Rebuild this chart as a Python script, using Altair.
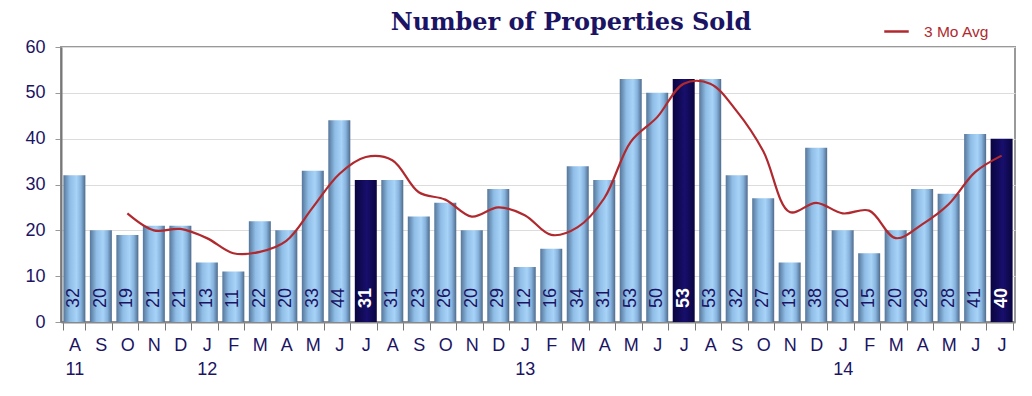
import altair as alt
import pandas as pd

months = ["A","S","O","N","D","J","F","M","A","M","J","J","A","S","O","N","D",
          "J","F","M","A","M","J","J","A","S","O","N","D","J","F","M","A","M","J","J"]
years = ["11","","","","","12","","","","","","","","","","","",
         "13","","","","","","","","","","","","14","","","","","",""]
sold = [32,20,19,21,21,13,11,22,20,33,44,31,31,23,26,20,29,12,16,34,31,53,50,53,
        53,32,27,13,38,20,15,20,29,28,41,40]
highlight = [i in (11, 23, 35) for i in range(36)]
avg3 = [None, None, 23.7, 20.0, 20.3, 18.3, 15.0, 15.3, 17.7, 25.0, 32.3, 36.0, 35.3,
        28.3, 26.7, 23.0, 25.0, 23.3, 19.0, 20.7, 27.0, 39.3, 44.7, 52.0, 52.0, 46.0,
        37.3, 24.0, 26.0, 23.7, 24.3, 18.3, 21.3, 25.7, 32.7, 36.3]

df = pd.DataFrame({"idx": list(range(36)), "sold": sold, "hl": highlight,
                   "avg": avg3, "series": ["3 Mo Avg"] * 36})

label_arr = "[" + ",".join("['%s','%s']" % (m, y) for m, y in zip(months, years)) + "]"

NAVY = "#1b1464"
W, H = 954, 275

x = alt.X("idx:O", title=None,
          scale=alt.Scale(paddingInner=0.17, paddingOuter=0.09),
          axis=alt.Axis(labelExpr=label_arr + "[datum.value]", labelAngle=0,
                        labelFont="Liberation Sans", labelFontSize=18, labelColor=NAVY,
                        labelPadding=6, labelLineHeight=24,
                        tickBand="extent", tickSize=8, tickColor="#777",
                        domainColor="#888", domainWidth=2, grid=False))
y = alt.Y("sold:Q", title=None,
          scale=alt.Scale(domain=[0, 60], nice=False),
          axis=alt.Axis(values=[0, 10, 20, 30, 40, 50, 60], labelFont="Liberation Sans",
                        labelFontSize=18, labelColor=NAVY, labelPadding=10,
                        tickSize=6, tickColor="#999", domainColor="#777", domainWidth=2,
                        gridColor="#dcdcdc", gridWidth=1))

base = alt.Chart(df)

light_grad = alt.Gradient(gradient="linear", x1=0, x2=1, y1=0, y2=0, stops=[
    alt.GradientStop(offset=0, color="#56769a"),
    alt.GradientStop(offset=0.3, color="#8fbde6"),
    alt.GradientStop(offset=0.6, color="#a8d3f8"),
    alt.GradientStop(offset=0.8, color="#86b2dc"),
    alt.GradientStop(offset=1, color="#4e6b8c")])
dark_grad = alt.Gradient(gradient="linear", x1=0, x2=1, y1=0, y2=0, stops=[
    alt.GradientStop(offset=0, color="#0a0540"),
    alt.GradientStop(offset=0.55, color="#170f6c"),
    alt.GradientStop(offset=1, color="#0a0540")])

bars = base.transform_filter("!datum.hl").mark_bar(color=light_grad).encode(x=x, y=y)
dbars = base.transform_filter("datum.hl").mark_bar(color=dark_grad).encode(x=x, y=y)

labels = base.transform_filter("!datum.hl").mark_text(
    angle=270, align="left", baseline="middle", font="Liberation Sans",
    fontSize=18, color=NAVY).encode(x=x, y=alt.value(H - 14), text="sold:Q")
dlabels = base.transform_filter("datum.hl").mark_text(
    angle=270, align="left", baseline="middle", font="Liberation Sans",
    fontSize=18, fontWeight="bold", color="white").encode(x=x, y=alt.value(H - 14), text="sold:Q")

line = base.transform_filter("datum.avg != null").mark_line(
    interpolate="catmull-rom", strokeWidth=2.2).encode(
    x=x, y=alt.Y("avg:Q"),
    color=alt.Color("series:N", title=None,
                    scale=alt.Scale(domain=["3 Mo Avg"], range=["#b0292e"]),
                    legend=alt.Legend(orient="none", legendX=822, legendY=-29,
                                      symbolType="stroke", symbolStrokeWidth=2.5,
                                      symbolSize=600, labelOffset=14,
                                      labelFont="Liberation Sans",
                                      labelFontSize=15.5, labelColor="#b0292e")))

chart = alt.layer(bars, dbars, labels, dlabels, line).properties(
    width=W, height=H,
    padding={"left": 53, "top": 39, "right": 5, "bottom": 60},
    autosize=alt.AutoSizeParams(type="none"),
    title=alt.TitleParams("Number of Properties Sold", font="DejaVu Serif",
                          fontSize=24, fontWeight="bold", color=NAVY,
                          anchor="middle", frame="group", dx=33, offset=-17)
).configure_view(stroke="#999", strokeWidth=2)

chart.save("out.html", embed_options={"renderer": "svg", "actions": False})
